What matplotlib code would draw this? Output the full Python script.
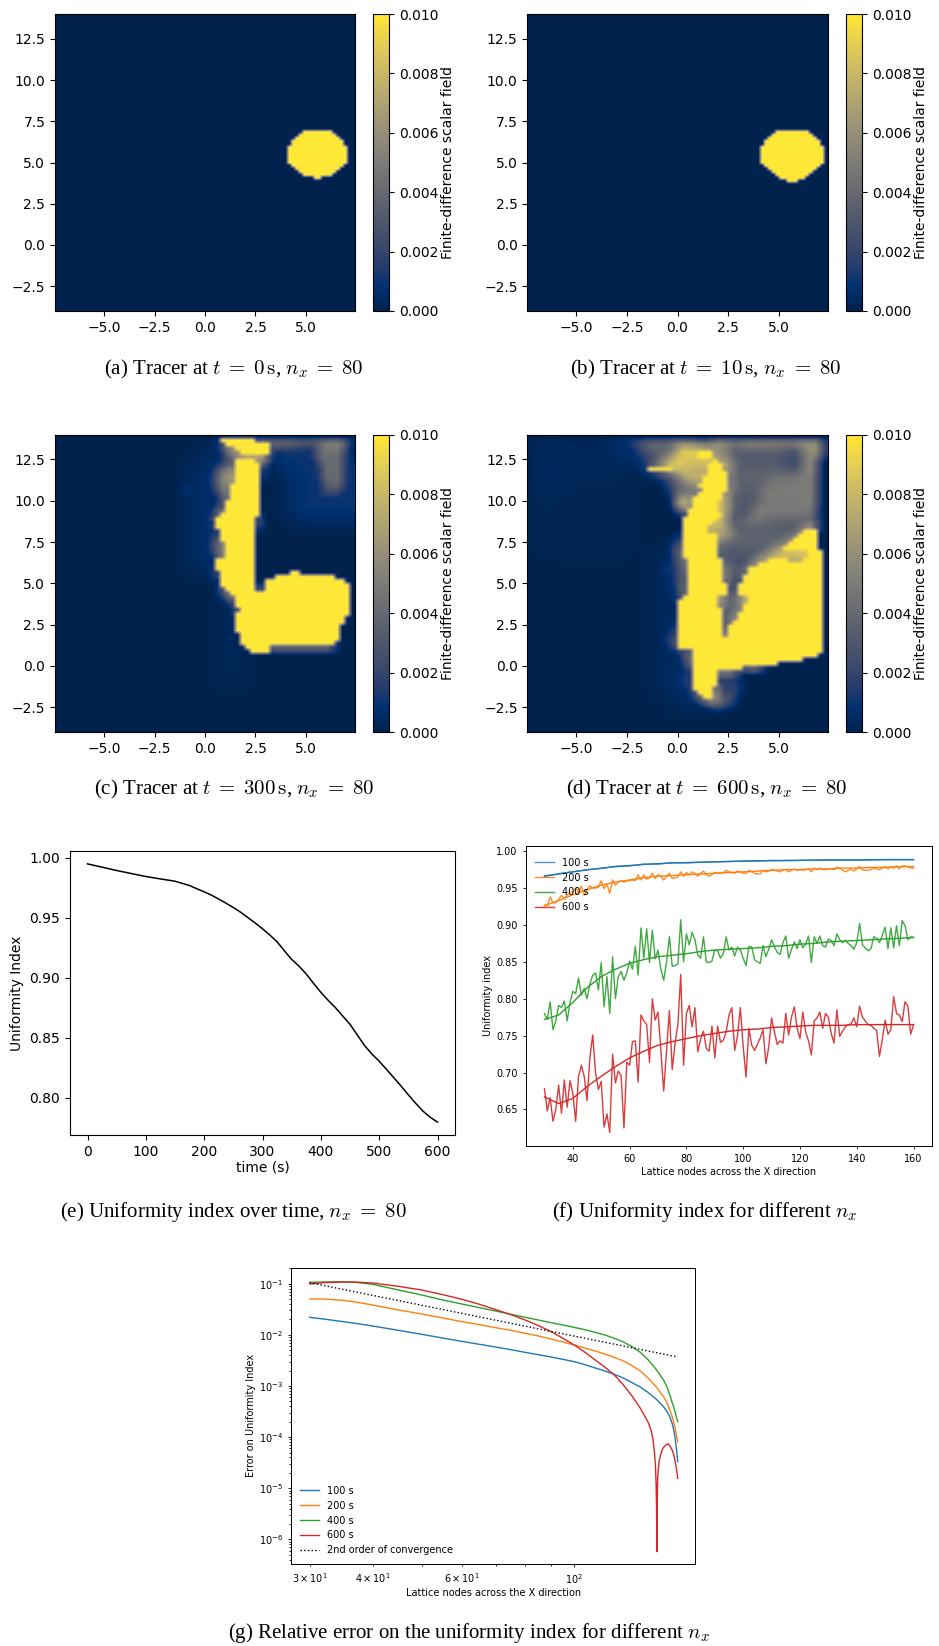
import numpy as np
import matplotlib
matplotlib.use("Agg")
import matplotlib.pyplot as plt

W, H = 939, 1646

# tracer fields : (first col, last col, level in 0.001), one list per row, from the top
# grid of 60 x 72 cells for c and d
field_c_rows = [
    [],
    [(33,39,10),(40,40,7),(41,41,6),(42,46,4),(47,52,4),(53,57,5),(58,58,3)],
    [(33,33,6),(34,42,10),(43,43,5),(44,47,4),(48,52,3),(53,57,5),(58,58,3)],
    [(34,35,7),(36,42,10),(43,43,3),(44,48,2),(49,52,1),(53,57,5)],
    [(33,34,3),(35,36,7),(37,42,10),(43,51,.5),(52,57,4.5)],
    [(34,36,4),(37,37,8),(38,40,7),(41,42,8),(52,57,4)],
    [(33,34,1),(35,35,4),(36,39,10),(40,41,7),(42,42,2),(52,57,4)],
    [(32,34,2.5),(35,35,6),(36,40,10),(41,41,4),(42,42,.5),(53,57,4)],
    [(32,33,3),(34,35,5),(36,40,10),(41,41,3),(53,57,4)],
    [(32,32,4),(33,34,6),(35,35,8),(36,40,10),(41,41,2),(53,57,4)],
    [(32,34,5),(35,35,6),(36,40,10),(41,41,2),(53,57,4)],
    [(32,33,5),(34,34,6),(35,35,8),(36,40,10),(41,41,.5),(53,57,4)],
    [(26,27,1),(32,33,5),(34,34,6),(35,40,10),(54,57,3.5)],
    [(25,27,1),(32,34,4),(35,40,10),(53,57,3)],
    [(26,27,1),(32,33,3),(34,34,6),(35,40,10),(52,57,1.5)],
    [(27,28,.5),(33,33,3),(34,34,7),(35,40,10),(52,56,1)],
    [(33,33,2),(34,40,10),(41,41,.5),(50,56,.5)],
    [(33,33,7),(34,40,10)],
    [(32,32,2),(33,33,6),(34,40,10)],
    [(31,31,3),(32,32,7),(33,40,10),(41,41,.5)],
    [(32,39,10),(40,40,4)],
    [(31,31,6),(32,39,10),(40,40,5)],
    [(32,39,10),(40,40,3)],
    [(31,31,.5),(32,32,5),(33,39,10),(40,40,.5)],
    [(29,30,.5),(32,32,2),(33,39,10)],
    [(28,30,.5),(32,32,4),(33,39,10)],
    [(28,30,1),(31,31,2),(32,32,5),(33,33,7),(34,39,10)],
    [(29,30,1),(31,31,.5),(32,33,5),(34,39,10)],
    [(30,30,.5),(32,33,4),(34,39,10)],
    [(32,32,4),(33,33,8),(34,39,10)],
    [(32,39,10)],
    [(32,39,10)],
    [(32,39,10)],
    [(32,32,6),(33,39,10),(47,48,10)],
    [(32,32,3),(33,39,10),(44,55,10)],
    [(32,32,.5),(33,39,10),(42,57,10)],
    [(33,39,10),(42,58,10)],
    [(33,33,5),(34,39,10),(40,40,3),(41,41,5),(42,58,10)],
    [(33,33,4),(34,34,6),(35,58,10)],
    [(34,34,3),(35,35,7),(36,58,10)],
    [(35,35,5),(36,58,10)],
    [(35,35,.5),(36,58,10)],
    [(35,35,1),(36,36,5),(37,58,10)],
    [(35,35,1),(36,58,10)],
    [(36,57,10)],
    [(35,35,.5),(36,57,10)],
    [(36,56,10)],
    [(36,56,10)],
    [(34,35,.5),(37,56,10)],
    [(34,35,.5),(37,56,10)],
    [(34,35,.5),(37,55,10)],
    [(38,42,10),(43,55,7)],
    [(39,42,10)],
]
# wide faint parts : first row, last row, first col, last col, level
haze_c = [(1,7,43,52,1.2), (5,20,47,59,1.0), (6,33,27,33,.6), (38,60,33,37,.3), (1,4,30,34,.6)]

field_d_rows = [
    [],
    [(19,22,1.5),(23,28,3),(29,33,5),(34,36,3),(37,39,5.5),(40,47,5),(48,58,5.5)],
    [(20,22,2),(23,28,4),(29,32,5),(33,36,4),(37,39,6),(40,42,4),(43,46,5.5),(47,53,5),(54,58,6)],
    [(21,23,2),(24,28,4),(29,29,5),(30,36,9),(37,39,6),(40,50,4),(51,53,3),(54,54,4),(55,58,6)],
    [(21,22,1),(23,27,3),(28,29,5),(30,33,9),(34,36,10),(37,37,5),(38,39,6),(40,50,3.5),(51,54,3),(55,58,6)],
    [(22,25,2),(26,28,5),(29,31,9),(32,33,8),(34,36,10),(37,38,6),(39,40,5),(41,50,3),(51,54,2.5),(55,57,5.5),(58,58,4)],
    [(22,24,1),(25,26,4),(27,30,8),(31,36,9),(37,37,10),(38,39,8),(40,41,4.5),(42,50,3),(51,54,2.5),(55,57,5.5)],
    [(23,24,2),(25,27,5),(28,31,9),(32,35,8),(36,38,10),(39,40,7),(41,50,3.5),(51,54,2.5),(55,57,5.5)],
    [(23,23,3),(24,28,10),(29,30,9),(31,35,7),(36,38,10),(39,40,7),(41,49,3.5),(50,54,3),(55,57,5.5)],
    [(24,25,2),(26,29,5),(30,35,8),(36,39,10),(40,40,5),(41,49,3.5),(50,54,4),(55,57,5.5)],
    [(25,27,1),(28,30,4),(31,34,8),(35,39,10),(40,40,6),(41,48,4),(49,53,4.5),(54,57,5)],
    [(27,29,2),(30,33,6),(34,34,8),(35,39,10),(40,40,6),(41,47,3.5),(48,53,5),(54,57,5)],
    [(28,28,2),(29,31,4),(32,33,5),(34,39,10),(40,40,7),(41,46,3.5),(47,52,4.5),(53,57,5)],
    [(28,29,2),(30,32,4.5),(33,34,6),(35,39,10),(40,41,5),(42,46,3.5),(47,52,5),(53,57,5)],
    [(28,28,1),(29,30,3),(31,31,7),(32,33,4),(34,38,10),(39,39,9),(40,40,5),(41,45,3.5),(46,57,5)],
    [(29,29,2),(30,31,8),(32,32,4),(33,38,10),(39,39,8),(40,41,4),(42,46,3),(47,57,5)],
    [(29,29,2),(30,31,9),(32,32,5),(33,37,10),(38,39,8),(40,41,4),(42,45,3),(46,54,4.5),(55,57,5)],
    [(29,29,2),(30,31,9),(32,32,3),(33,37,10),(38,39,9),(40,41,4),(42,44,3),(45,57,5)],
    [(30,31,4),(32,37,10),(38,39,8),(40,40,5),(41,44,3),(45,56,5),(57,57,3)],
    [(31,31,3),(32,38,10),(39,39,8),(40,44,3),(45,48,5),(49,55,4.5),(56,57,4)],
    [(31,37,10),(38,39,8),(40,42,3.5),(43,46,4.5),(47,57,4)],
    [(31,36,10),(37,37,8),(38,39,9),(40,42,3),(43,47,4.5),(48,57,3.5)],
    [(31,35,10),(36,38,8),(39,40,5),(41,50,3.5),(51,54,3),(55,57,8)],
    [(31,35,10),(36,38,7),(39,40,7),(41,53,3.5),(54,54,7),(55,57,10)],
    [(30,30,2),(31,37,10),(38,39,7),(40,41,5),(42,52,3.5),(53,53,7),(54,57,10)],
    [(30,30,3),(31,37,10),(38,39,6),(40,51,4),(52,52,7),(53,57,10)],
    [(29,29,1),(30,30,3),(31,37,10),(38,38,5),(39,39,4),(40,48,3.5),(49,50,4.5),(51,51,7),(52,57,10)],
    [(29,30,4),(31,37,10),(38,38,4),(39,47,3.5),(48,49,5),(50,50,7),(51,57,10)],
    [(29,29,2),(30,30,4),(31,37,10),(38,38,4),(39,46,3),(47,48,5),(49,49,7),(50,55,9),(56,58,10)],
    [(29,29,2),(30,30,5),(31,37,10),(38,38,4),(39,45,3),(46,47,6),(48,54,8),(55,55,9),(56,58,10)],
    [(28,29,1),(30,31,5),(32,38,10),(39,40,3),(41,44,2.5),(45,47,7),(48,51,10),(52,54,7),(55,58,10)],
    [(27,29,1),(30,30,2),(31,31,6),(32,38,10),(39,40,4),(41,43,2.5),(44,45,6),(46,58,10)],
    [(27,29,1),(30,30,2),(31,31,6),(32,38,10),(39,40,5),(41,42,2.5),(43,43,5),(44,58,10)],
    [(26,29,1),(30,31,4),(32,38,10),(39,40,5),(41,42,2.5),(43,43,7),(44,58,10)],
    [(28,29,1),(30,30,2),(31,31,4),(32,38,10),(39,39,6),(40,42,3),(43,58,10)],
    [(29,30,2),(31,31,5),(32,38,10),(39,39,7),(40,42,2.5),(43,58,10)],
    [(29,30,2),(31,31,5),(32,39,10),(40,41,2.5),(42,58,10)],
    [(29,30,2),(31,31,5),(32,39,10),(40,41,2.5),(42,58,10)],
    [(29,30,1),(31,31,6),(32,39,10),(40,41,3),(42,58,10)],
    [(29,29,1),(30,30,3),(31,37,10),(38,39,6),(40,41,3),(42,43,8),(44,58,10)],
    [(29,29,1),(30,37,10),(38,39,7),(40,41,3),(42,43,7),(44,58,10)],
    [(29,29,1),(30,37,10),(38,38,8),(39,41,3),(42,42,6),(43,58,10)],
    [(30,38,10),(39,40,3),(41,42,5),(43,58,10)],
    [(30,38,10),(39,40,3),(41,41,8),(42,58,10)],
    [(29,29,1),(30,38,10),(39,40,3.5),(41,41,8),(42,58,10)],
    [(29,29,2),(30,38,10),(39,40,3.5),(41,58,10)],
    [(29,29,2),(30,38,10),(39,39,3),(40,58,10)],
    [(29,29,3),(30,38,10),(39,39,4),(40,58,10)],
    [(28,29,2),(30,38,10),(39,39,5),(40,58,10)],
    [(28,29,2),(30,58,10)],
    [(28,29,3),(30,58,10)],
    [(29,29,5),(30,58,10)],
    [(30,32,3),(33,58,10)],
    [(31,31,2),(32,32,5),(33,57,10)],
    [(31,32,4),(33,54,10)],
    [(31,31,2),(32,32,6),(33,49,10)],
    [(31,31,.5),(32,32,3),(33,42,10),(43,46,7)],
    [(31,31,1),(32,32,2),(33,37,10),(38,41,7)],
    [(30,31,1),(32,32,1),(33,37,10),(38,41,2)],
    [(30,31,2),(32,32,.5),(33,37,10),(38,41,1.5)],
    [(31,32,2),(33,37,10),(38,42,1.5)],
    [(32,32,2),(33,36,10),(37,37,9),(38,42,2)],
    [(32,33,2),(34,36,10),(37,37,7),(38,41,2)],
    [(33,34,5),(35,36,10),(37,37,9),(38,41,2)],
    [(34,34,2),(35,36,8),(37,37,7),(38,40,4),(41,41,1)],
    [(36,36,1),(37,38,4),(39,40,2)],
    [(37,37,2)],
]
haze_d = [(1,14,1,6,.4), (15,28,1,6,.2), (1,12,7,20,.25), (13,30,7,20,.12), (0,6,18,24,.8),
          (28,62,26,30,.5), (56,66,30,34,.6)]

# blob of a and b, grid of 80 x 97 cells
blob_a_rows  = [38,39,40,41,42,43,44,45,46,47,48,49,50,51,52,53]
blob_a_first = [66,65,64,63,63,62,62,62,62,62,62,63,64,65,66,69]
blob_a_last  = [73,74,75,76,76,77,77,77,77,77,77,76,75,74,73,70]
blob_b_rows  = [38,39,40,41,42,43,44,45,46,47,48,49,50,51,52,53,54]
blob_b_first = [66,65,64,63,63,62,62,62,62,62,62,63,64,65,66,67,69]
blob_b_last  = [74,75,76,77,77,78,78,78,78,78,78,77,76,75,74,73,71]

ticks_x = [-5, -2.5, 0, 2.5, 5]
ticks_y = [-2.5, 0, 2.5, 5, 7.5, 10, 12.5]
ticks_cb = [0, 0.002, 0.004, 0.006, 0.008, 0.01]

# (e)
time_s = [0,25,50,75,100,125,150,175,187.5,200,212.5,225,237.5,250,262.5,275,287.5,300,312.5,325,337.5,350,
          362.5,375,387.5,400,412.5,425,437.5,450,462.5,475,487.5,500,512.5,525,537.5,550,562.5,575,587.5,600]
ui_time = [.9947,.9920,.9892,.9867,.9842,.9822,.9803,.9767,.974,.9715,.9687,.9654,.962,.9584,.9545,.950,.9455,
           .9407,.9355,.9299,.9224,.9152,.9097,.903,.8953,.8878,.8812,.8751,.8681,.8612,.8523,.8435,.8365,.8305,
           .8237,.8168,.8098,.8025,.7955,.789,.7838,.7798]

# (f)
labels_t = ["100 s", "200 s", "400 s", "600 s"]
nodes_raw = list(range(30, 161))
nodes_coarse = list(range(30, 161, 5))
raw_600 = [.678,.648,.666,.634,.65,.683,.645,.69,.653,.689,.672,.634,.695,.71,.695,.662,.72,.751,.70,.677,
           .688,.626,.644,.619,.725,.686,.702,.696,.625,.714,.71,.742,.743,.687,.778,.77,.765,.714,.80,.771,
           .782,.73,.675,.73,.784,.704,.74,.765,.833,.71,.78,.791,.762,.788,.728,.745,.756,.733,.729,.763,
           .72,.763,.741,.744,.755,.778,.788,.73,.75,.788,.735,.694,.76,.737,.73,.738,.747,.758,.712,.735,
           .774,.755,.738,.743,.74,.78,.751,.775,.789,.76,.746,.782,.755,.743,.724,.77,.774,.782,.76,.78,
           .775,.753,.74,.785,.749,.756,.762,.765,.766,.774,.762,.79,.775,.77,.765,.764,.76,.757,.722,.745,
           .771,.752,.758,.803,.78,.778,.769,.796,.79,.752,.765]
raw_400 = [.78,.772,.796,.758,.77,.791,.788,.797,.77,.795,.81,.807,.828,.805,.814,.80,.82,.832,.835,.812,
           .849,.789,.83,.78,.857,.80,.83,.837,.825,.835,.851,.84,.871,.832,.896,.855,.895,.849,.893,.854,
           .866,.84,.825,.85,.884,.844,.845,.847,.907,.85,.888,.873,.89,.88,.859,.855,.884,.85,.849,.851,
           .866,.865,.855,.861,.884,.866,.87,.858,.87,.866,.855,.845,.871,.87,.853,.85,.848,.872,.857,.867,
           .88,.87,.863,.86,.876,.885,.855,.867,.877,.868,.88,.869,.874,.885,.849,.884,.875,.885,.872,.87,
           .881,.879,.872,.888,.88,.876,.879,.875,.872,.867,.876,.902,.873,.869,.865,.868,.884,.882,.876,.886,
           .897,.868,.896,.869,.899,.872,.906,.899,.88,.884,.883]
raw_200 = [.927,.926,.938,.93,.93,.935,.94,.935,.94,.944,.945,.95,.945,.952,.94,.948,.953,.95,.95,.951,
           .96,.949,.955,.943,.961,.954,.958,.96,.958,.96,.96,.961,.96,.968,.961,.968,.962,.964,.97,.963,
           .968,.966,.961,.966,.97,.963,.964,.965,.972,.966,.971,.968,.972,.97,.966,.97,.973,.968,.966,.968,
           .971,.971,.97,.971,.974,.972,.971,.97,.973,.972,.97,.97,.974,.972,.97,.969,.969,.974,.972,.973,
           .975,.974,.973,.972,.975,.975,.972,.974,.976,.974,.975,.974,.975,.976,.972,.977,.975,.977,.975,.975,
           .976,.976,.975,.978,.977,.974,.972,.974,.976,.973,.976,.979,.975,.974,.974,.975,.977,.976,.975,.977,
           .979,.976,.979,.977,.98,.976,.98,.98,.979,.977,.977]
raw_100 = [.9655,.9695,.972,.9750,.9765,.9795,.9800,.9825,.9825,.9845,.9840,.9850,.9855,.9860,.9865,.9865,.9875,
           .9870,.9875,.9875,.9880,.9880,.9880,.9880,.9885,.9885,.9885]
fit_100 = [.9665,.969,.972,.9745,.977,.979,.9805,.982,.983,.984,.9845,.985,.9855,.986,.9865,.987,.987,
           .9875,.9875,.988,.988,.988,.988,.9885,.9885,.9885,.9885]
fit_200 = [.926,.933,.941,.948,.954,.958,.961,.964,.966,.967,.968,.969,.970,.971,.972,.973,.974,
           .975,.975,.976,.976,.977,.977,.978,.978,.979,.979]
fit_400 = [.772,.778,.795,.815,.83,.84,.848,.853,.857,.859,.861,.864,.866,.867,.868,.869,.871,
           .872,.874,.875,.877,.878,.879,.88,.881,.882,.883]
fit_600 = [.667,.658,.665,.681,.695,.708,.72,.729,.737,.742,.746,.75,.753,.756,.758,.759,.761,
           .762,.763,.764,.764,.764,.765,.765,.765,.765,.765]

# (g) decades of the error
nodes_err = [30,32,35,37,40,45,50,55,60,65,70,75,80,85,90,95,100,105,110,115,120,125,130,135,140,145,150,
             152,154,155,156,157,158,159,160]
log_err_100 = [-1.658,-1.691,-1.743,-1.776,-1.828,-1.913,-1.991,-2.063,-2.128,-2.186,-2.239,-2.291,-2.343,-2.389,
               -2.434,-2.480,-2.525,-2.584,-2.649,-2.708,-2.773,-2.845,-2.936,-3.021,-3.132,-3.256,-3.405,
               -3.484,-3.582,-3.653,-3.731,-3.842,-3.992,-4.220,-4.481]
log_err_200 = [-1.300,-1.300,-1.326,-1.359,-1.417,-1.515,-1.593,-1.671,-1.743,-1.802,-1.861,-1.913,-1.971,-2.023,
               -2.082,-2.141,-2.200,-2.258,-2.317,-2.376,-2.441,-2.512,-2.604,-2.708,-2.851,-3.014,-3.210,
               -3.308,-3.438,-3.523,-3.601,-3.699,-3.810,-3.960,-4.090]
log_err_400 = [-.974,-.967,-.961,-.974,-1.013,-1.124,-1.222,-1.319,-1.398,-1.469,-1.535,-1.600,-1.658,-1.711,
               -1.763,-1.808,-1.854,-1.900,-1.952,-2.004,-2.069,-2.141,-2.232,-2.343,-2.493,-2.675,-2.884,
               -2.995,-3.145,-3.229,-3.327,-3.405,-3.503,-3.601,-3.699]
nodes_err_600 = [30,32,35,37,40,45,50,55,60,65,70,75,80,85,90,95,100,105,110,115,120,125,130,135,140,142,143,144,
                 144.6,145,145.3,145.5,145.7,146,146.5,147,148,149,150,152,153.5,155,156,157,158,159,160]
log_err_600 = [-1.007,-.980,-.967,-.967,-.987,-1.052,-1.124,-1.215,-1.306,-1.404,-1.508,-1.606,-1.711,-1.821,
               -1.939,-2.069,-2.200,-2.343,-2.493,-2.636,-2.786,-2.982,-3.197,-3.438,-3.718,-3.894,-4.057,-4.318,
               -4.579,-4.905,-5.361,-6.241,-5.361,-4.840,-4.611,-4.481,-4.351,-4.253,-4.201,-4.142,-4.136,-4.201,
               -4.253,-4.331,-4.449,-4.611,-4.807]
nodes_order2 = [30, 160]
err_order2 = [.105, .00369]

plt.rcParams['mathtext.fontset'] = 'cm'


def px_axes(fig, left, right, top, bottom):
    return fig.add_axes([left/W, 1-bottom/H, (right-left)/W, (bottom-top)/H])


def box_blur(a, n):
    k = np.ones(n)/n
    pad = np.pad(a, n, mode='edge')
    pad = np.apply_along_axis(lambda v: np.convolve(v, k, mode='same'), 0, pad)
    pad = np.apply_along_axis(lambda v: np.convolve(v, k, mode='same'), 1, pad)
    return pad[n:-n, n:-n]


def field_from_spans(rows, haze, ny=72, nx=60):
    # yellow cells stay sharp, what is around them is softened
    a = np.zeros((ny, nx))
    for r, spans in enumerate(rows):
        for c0, c1, lev in spans:
            a[r, c0:c1+1] = lev
    hz = np.zeros((ny, nx))
    for r0, r1, c0, c1, lev in haze:
        hz[r0:r1+1, c0:c1+1] = lev
    yellow = a >= 10
    free = (~yellow).astype(float)
    soft = box_blur(a*free, 3)/np.maximum(box_blur(free, 3), 1e-6)
    out = np.where(yellow, 10, np.maximum(soft, box_blur(hz, 7)))
    out[0] = 0
    return out*0.001


def field_from_blob(rows, first, last):
    a = np.zeros((97, 80))
    for r, c0, c1 in zip(rows, first, last):
        a[r, c0:c1+1] = 0.01
    return a


def caption(x, y, s):
    fig.text(x/W, 1-y/H, s, ha='center', va='center', family='Liberation Serif', fontsize=CAP)


def tracer(field, box, cbx, cap, capx, capy):
    ax = px_axes(fig, box[0], box[1], box[2], box[3])
    im = ax.imshow(field, cmap='cividis', vmin=0, vmax=0.01, extent=(-7.43, 7.43, -4, 14),
                   aspect='auto', interpolation='bilinear')
    ax.set_xticks(ticks_x)
    ax.set_yticks(ticks_y)
    ax.tick_params(labelsize=10)
    cax = px_axes(fig, cbx[0], cbx[1], box[2], box[3])
    cb = fig.colorbar(im, cax=cax)
    cb.set_ticks(ticks_cb)
    cb.ax.set_yticklabels(["%.3f" % t for t in ticks_cb])
    cb.ax.tick_params(labelsize=10)
    cb.set_label("Finite-difference scalar field", fontsize=10, labelpad=2)
    caption(capx, capy, cap)


CAP = 15
fig = plt.figure(figsize=(W/100, H/100), dpi=100)

tracer(field_from_blob(blob_a_rows, blob_a_first, blob_a_last), (55, 355, 14, 311), (373, 389),
       r"(a) Tracer at $t\;=\;0\,\mathrm{s}$, $n_x\;=\;80$", 233.7, 369)
tracer(field_from_blob(blob_b_rows, blob_b_first, blob_b_last), (527.3, 827.7, 14, 311), (846, 862),
       r"(b) Tracer at $t\;=\;10\,\mathrm{s}$, $n_x\;=\;80$", 706, 369)
tracer(field_from_spans(field_c_rows, haze_c), (55, 355, 434.7, 732), (373, 389),
       r"(c) Tracer at $t\;=\;300\,\mathrm{s}$, $n_x\;=\;80$", 233.7, 789)
tracer(field_from_spans(field_d_rows, haze_d), (527.3, 827.7, 434.7, 732), (846, 862),
       r"(d) Tracer at $t\;=\;600\,\mathrm{s}$, $n_x\;=\;80$", 706.5, 789)

# e
ax = px_axes(fig, 70, 455, 851, 1135)
ax.plot(time_s, ui_time, color='k', lw=1.1)
ax.set_yticks([.80, .85, .90, .95, 1.00])
ax.tick_params(labelsize=10)
ax.set_xlabel("time (s)", fontsize=10, labelpad=1)
ax.set_ylabel("Uniformity Index", fontsize=10)
caption(233.8, 1212, r"(e) Uniformity index over time, $n_x\;=\;80$")

# f
ax = px_axes(fig, 526, 932, 846, 1146)
colors = ['C0', 'C1', 'C2', 'C3']
ax.plot(nodes_coarse, raw_100, color=colors[0], lw=1.0, alpha=.8, label=labels_t[0])
ax.plot(nodes_coarse, fit_100, color=colors[0], lw=1.0)
ax.plot(nodes_raw, raw_200, color=colors[1], lw=1.0, alpha=.9, label=labels_t[1])
ax.plot(nodes_coarse, fit_200, color=colors[1], lw=1.0)
ax.plot(nodes_raw, raw_400, color=colors[2], lw=1.0, alpha=.9, label=labels_t[2])
ax.plot(nodes_coarse, fit_400, color=colors[2], lw=1.0)
ax.plot(nodes_raw, raw_600, color=colors[3], lw=1.0, alpha=.9, label=labels_t[3])
ax.plot(nodes_coarse, fit_600, color=colors[3], lw=1.0)
ax.set_yticks([.65, .70, .75, .80, .85, .90, .95, 1.00])
ax.tick_params(labelsize=7, length=2.5, width=.6)
ax.set_xlabel("Lattice nodes across the X direction", fontsize=7, labelpad=2)
ax.set_ylabel("Uniformity index", fontsize=7, labelpad=2)
ax.legend(loc='upper left', frameon=False, fontsize=7, bbox_to_anchor=(0, .99))
for s in ax.spines.values():
    s.set_linewidth(.7)
caption(705, 1212, r"(f) Uniformity index for different $n_x$")

# g
ax = px_axes(fig, 291.3, 695.3, 1267.7, 1564)
ax.loglog(nodes_err, 10**np.array(log_err_100), color=colors[0], lw=1.0, label=labels_t[0])
ax.loglog(nodes_err, 10**np.array(log_err_200), color=colors[1], lw=1.0, label=labels_t[1])
ax.loglog(nodes_err, 10**np.array(log_err_400), color=colors[2], lw=1.0, label=labels_t[2])
ax.loglog(nodes_err_600, 10**np.array(log_err_600), color=colors[3], lw=1.0, label=labels_t[3])
ax.loglog(nodes_order2, err_order2, color='k', lw=1.0, ls=':', label="2nd order of convergence")
ax.set_xlim(27.6, 173.3)
ax.set_ylim(3.3e-7, .2056)
ax.tick_params(which='both', labelsize=7, width=.6)
ax.tick_params(which='major', length=2.5)
ax.tick_params(which='minor', length=1.5)
ax.set_xlabel("Lattice nodes across the X direction", fontsize=7, labelpad=1)
ax.set_ylabel("Error on Uniformity Index", fontsize=7, labelpad=2)
ax.legend(loc='lower left', frameon=False, fontsize=7)
for s in ax.spines.values():
    s.set_linewidth(.7)
caption(468.5, 1632.7, r"(g) Relative error on the uniformity index for different $n_x$")

fig.savefig("out.png", dpi=100)
